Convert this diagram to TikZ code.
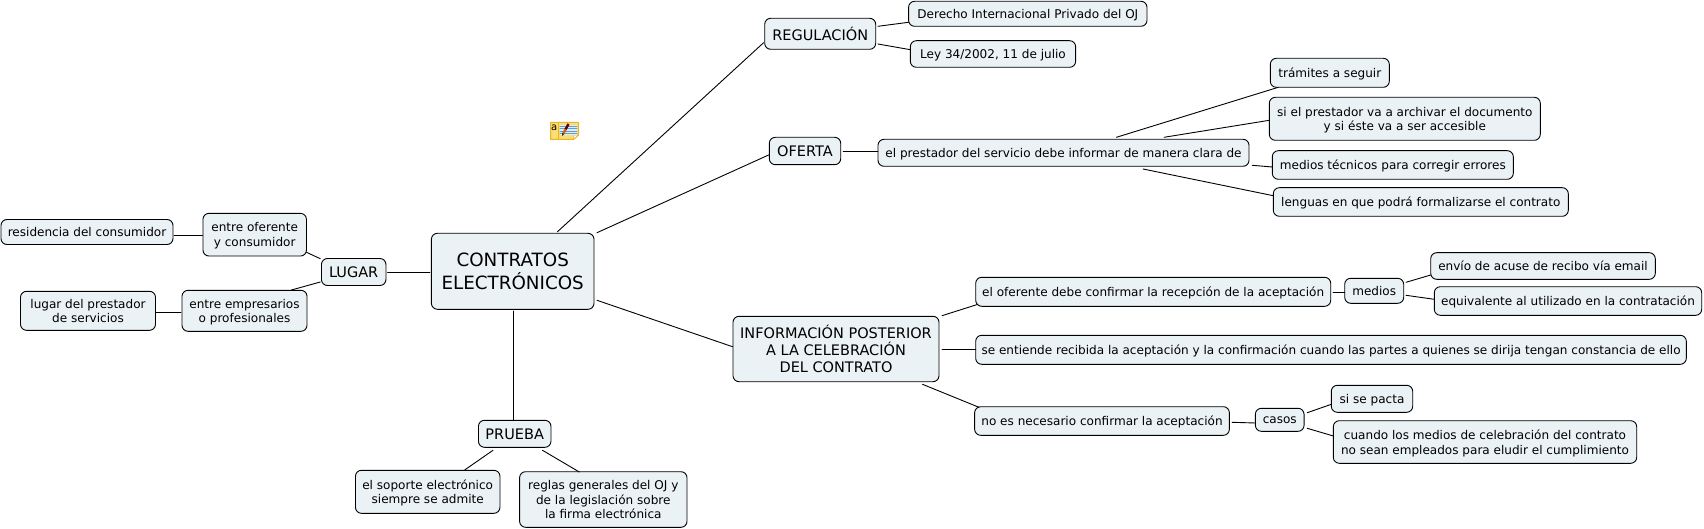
\documentclass[tikz,border=0pt]{standalone}
\usepackage{fontspec}
\setmainfont{DejaVu Sans}
\definecolor{boxfill}{HTML}{EBF2F5}
\definecolor{iconfill}{HTML}{FBDD72}
\definecolor{iconedge}{HTML}{E9B52B}
\definecolor{iconblue}{HTML}{5E9BD8}
\tikzset{
  leaf/.style={draw=black,fill=boxfill,rounded corners=6pt,line width=0.9pt,inner sep=0pt,outer sep=0pt,align=center,text depth=0pt,font=\fontsize{12.05}{14.6}\selectfont},
  topic/.style={leaf,font=\fontsize{14.5}{17}\selectfont},
  hub/.style={leaf,font=\fontsize{18.3}{22.5}\selectfont},
  link/.style={draw=black,line width=0.9pt},
}

\begin{document}
\begin{tikzpicture}[x=1pt,y=-1pt,line cap=round,line join=round]
  \useasboundingbox (0,0) rectangle (1704,529);
  % hub and left side
  \node[hub,minimum width=162.6pt,minimum height=76pt] (central) at (512.7,271.3) {CONTRATOS\\ELECTRÓNICOS};
  \node[topic,minimum width=64.5pt,minimum height=27pt] (lugar) at (353.7,272) {LUGAR};
  \node[leaf,minimum width=103.5pt,minimum height=42.7pt] (ofer) at (254.7,234.7) {entre oferente\\y consumidor};
  \node[leaf,minimum width=172pt,minimum height=25pt] (resid) at (87,232) {residencia del consumidor};
  \node[leaf,minimum width=125pt,minimum height=41pt] (empres) at (244.5,310.8) {entre empresarios\\o profesionales};
  \node[leaf,minimum width=135pt,minimum height=39pt] (prest) at (88,310.8) {lugar del prestador\\de servicios};
  \node[topic,minimum width=72.5pt,minimum height=27pt] (prueba) at (514.7,433.8) {PRUEBA};
  \node[leaf,minimum width=144.5pt,minimum height=43pt] (soporte) at (427.7,491.8) {el soporte electrónico\\siempre se admite};
  \node[leaf,minimum width=167.4pt,minimum height=55.6pt] (reglas) at (603.3,499.5) {reglas generales del OJ y\\de la legislación sobre\\la firma electrónica};
  % regulacion and oferta
  \node[topic,minimum width=111pt,minimum height=31pt] (reg) at (820.2,33.8) {REGULACIÓN};
  \node[leaf,minimum width=238.4pt,minimum height=25pt] (derecho) at (1027.8,13.8) {Derecho Internacional Privado del OJ};
  \node[leaf,minimum width=165.3pt,minimum height=26.6pt] (ley) at (993,54) {Ley 34/2002, 11 de julio};
  \node[topic,minimum width=71.4pt,minimum height=27.4pt] (oferta) at (805,151) {OFERTA};
  \node[leaf,minimum width=371pt,minimum height=27pt] (deber) at (1063.5,152.8) {el prestador del servicio debe informar de manera clara de};
  \node[leaf,minimum width=119pt,minimum height=29pt] (tramites) at (1329.8,72.8) {trámites a seguir};
  \node[leaf,minimum width=271pt,minimum height=43pt] (archivo) at (1404.8,118.8) {si el prestador va a archivar el documento\\y si éste va a ser accesible};
  \node[leaf,minimum width=241pt,minimum height=28.6pt] (tecnicos) at (1392.8,165) {medios técnicos para corregir errores};
  \node[leaf,minimum width=295pt,minimum height=28.6pt] (lenguas) at (1420.8,202) {lenguas en que podrá formalizarse el contrato};
  % informacion posterior
  \node[topic,minimum width=206pt,minimum height=65.4pt] (info) at (836,349) {INFORMACIÓN POSTERIOR\\A LA CELEBRACIÓN\\DEL CONTRATO};
  \node[leaf,minimum width=355pt,minimum height=29pt] (confirma) at (1153.2,291.8) {el oferente debe confirmar la recepción de la aceptación};
  \node[leaf,minimum width=59pt,minimum height=25pt] (medios) at (1374.2,290.8) {medios};
  \node[leaf,minimum width=224.6pt,minimum height=26.6pt] (envio) at (1543,266) {envío de acuse de recibo vía email};
  \node[leaf,minimum width=267.4pt,minimum height=28.6pt] (equiv) at (1568,301) {equivalente al utilizado en la contratación};
  \node[leaf,minimum width=710.6pt,minimum height=29pt] (recibida) at (1331,349.8) {se entiende recibida la aceptación y la confirmación cuando las partes a quienes se dirija tengan constancia de ello};
  \node[leaf,minimum width=254.7pt,minimum height=28.6pt] (noconf) at (1102,421) {no es necesario confirmar la aceptación};
  \node[leaf,minimum width=48.7pt,minimum height=23pt] (casos) at (1279.7,419.8) {casos};
  \node[leaf,minimum width=81.4pt,minimum height=27pt] (pacta) at (1372,398.8) {si se pacta};
  \node[leaf,minimum width=303.4pt,minimum height=42.6pt] (cuando) at (1485,442) {cuando los medios de celebración del contrato\\no sean empleados para eludir el cumplimiento};
  % connectors
  \draw[link] ([shift={(87,3.3)}]resid.center) -- ([shift={(-52.2,.6)}]ofer.center);
  \draw[link] ([shift={(51.8,17.6)}]ofer.center) -- ([shift={(-33.4,-13.3)}]lugar.center);
  \draw[link] ([shift={(-33.4,10)}]lugar.center) -- ([shift={(46.9,-20.8)}]empres.center);
  \draw[link] ([shift={(67.8,1.9)}]prest.center) -- ([shift={(-63.5,1.9)}]empres.center);
  \draw[link] ([shift={(33.8,0)}]lugar.center) -- ([shift={(-82.9,.7)}]central.center);
  \draw[link] ([shift={(.9,39.7)}]central.center) -- ([shift={(-1.1,-13.5)}]prueba.center);
  \draw[link] ([shift={(-21.7,16.5)}]prueba.center) -- ([shift={(36.9,-21.8)}]soporte.center);
  \draw[link] ([shift={(27.8,16.5)}]prueba.center) -- ([shift={(-24,-27.5)}]reglas.center);
  \draw[link] ([shift={(44.8,-39.6)}]central.center) -- ([shift={(-56.6,8.9)}]reg.center);
  \draw[link] ([shift={(84.3,-38.6)}]central.center) -- ([shift={(-36.4,4)}]oferta.center);
  \draw[link] ([shift={(84.3,29)}]central.center) -- ([shift={(-103.5,-2.3)}]info.center);
  \draw[link] ([shift={(57.7,-7.5)}]reg.center) -- ([shift={(-119.2,8.5)}]derecho.center);
  \draw[link] ([shift={(57.7,10.2)}]reg.center) -- ([shift={(-82.6,-4.3)}]ley.center);
  \draw[link] ([shift={(38.2,0)}]oferta.center) -- ([shift={(-185.5,-1.8)}]deber.center);
  \draw[link] ([shift={(52.9,-15.5)}]deber.center) -- ([shift={(-51.5,14.5)}]tramites.center);
  \draw[link] ([shift={(100.5,-15.5)}]deber.center) -- ([shift={(-135.5,1.5)}]archivo.center);
  \draw[link] ([shift={(188.8,12.5)}]deber.center) -- ([shift={(-120.5,2)}]tecnicos.center);
  \draw[link] ([shift={(79.5,16.2)}]deber.center) -- ([shift={(-147.5,-6.3)}]lenguas.center);
  \draw[link] ([shift={(106,-33.3)}]info.center) -- ([shift={(-175.3,12.5)}]confirma.center);
  \draw[link] ([shift={(106,.3)}]info.center) -- ([shift={(-355.3,-.5)}]recibida.center);
  \draw[link] ([shift={(86.5,35.3)}]info.center) -- ([shift={(-123,-13.7)}]noconf.center);
  \draw[link] ([shift={(179.8,.5)}]confirma.center) -- ([shift={(-29.5,1.5)}]medios.center);
  \draw[link] ([shift={(31.8,-8.5)}]medios.center) -- ([shift={(-112.3,9)}]envio.center);
  \draw[link] ([shift={(31.8,4.5)}]medios.center) -- ([shift={(-133.7,-1.7)}]equiv.center);
  \draw[link] ([shift={(130,1.3)}]noconf.center) -- ([shift={(-24.4,3.2)}]casos.center);
  \draw[link] ([shift={(27.6,-7.1)}]casos.center) -- ([shift={(-40.7,5.5)}]pacta.center);
  \draw[link] ([shift={(27.6,8.5)}]casos.center) -- ([shift={(-151.7,-6)}]cuando.center);
  % note icon
  \draw[draw=iconedge,fill=iconfill,line width=1pt] (550.5,122.5) -- (578.5,122.5) -- (578.5,135) -- (573.5,139.5) -- (550.5,139.5) -- cycle;
  \draw[draw=iconedge,line width=0.8pt] (558.5,122.5) -- (558.5,139.5);
  \draw[draw=iconedge,fill=white,line width=0.6pt] (578.5,135) -- (574,135) -- (573.5,139.5) -- cycle;
  \fill[white!80!iconblue] (560,125) rectangle (577,135);
  \foreach \liney in {126,128.5,131,133.5} \draw[iconblue,line width=0.7pt] (560,\liney) -- (577,\liney);
  \draw[line width=2.4pt,draw=black!60!red,line cap=butt] (568.5,124) -- (565.5,129.5);
  \draw[line width=2.4pt,draw=orange!80!black,line cap=butt] (565.5,129.5) -- (563.3,133.5);
  \fill[black!80] (562.2,133) -- (564.2,134.2) -- (562,136) -- cycle;
  \node[inner sep=0pt,font=\fontsize{10}{10}\selectfont] (icona) at (554.3,127.5) {a};
\end{tikzpicture}
\end{document}
